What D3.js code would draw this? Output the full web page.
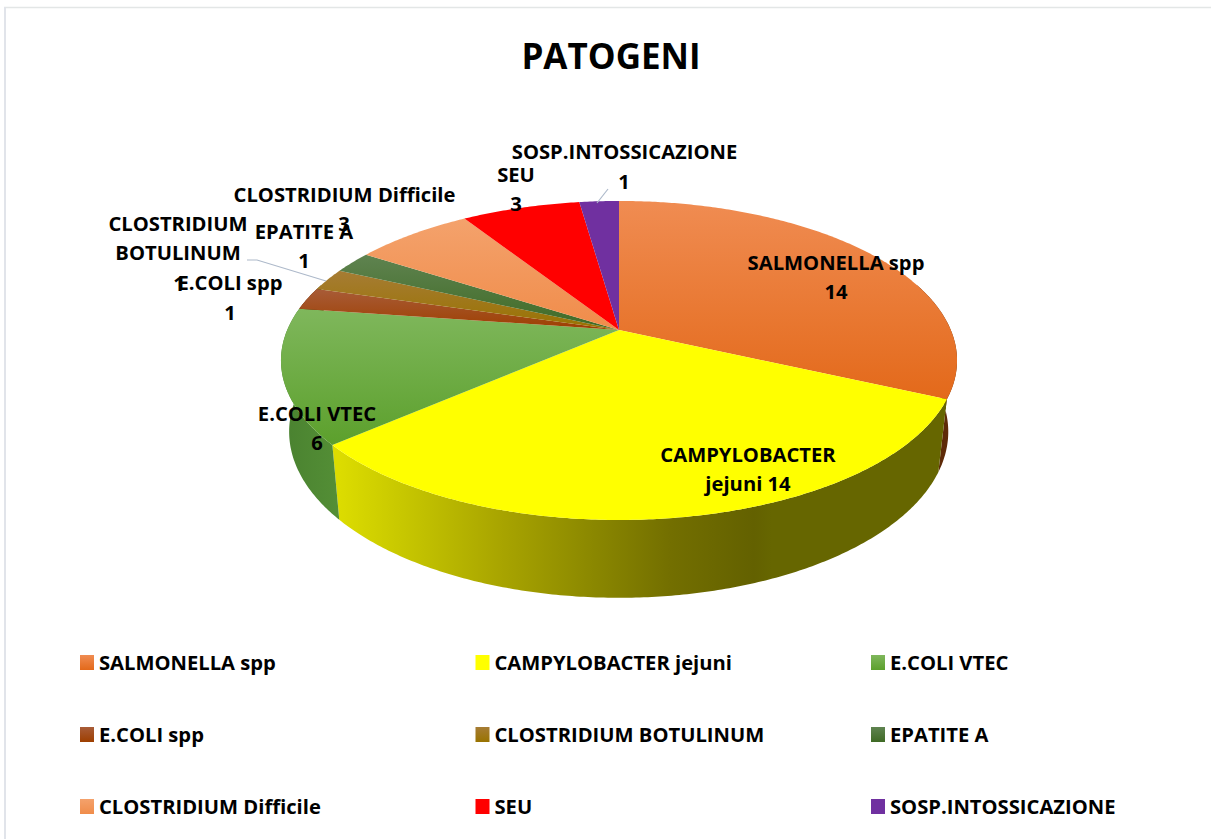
<!DOCTYPE html>
<html><head><meta charset="utf-8">
<script src="https://cdn.jsdelivr.net/npm/d3@7"></script>
<style>html,body{margin:0;padding:0;background:#fff;overflow:hidden}svg{display:block}
text{font-family:"Open Sans",sans-serif;font-weight:700;fill:#000}</style>
</head><body><svg id="c" width="1211" height="839"></svg>
<script>
const categories = ["SALMONELLA spp","CAMPYLOBACTER jejuni","E.COLI VTEC","E.COLI spp","CLOSTRIDIUM BOTULINUM","EPATITE A","CLOSTRIDIUM Difficile","SEU","SOSP.INTOSSICAZIONE"];
const values = [14,14,6,1,1,1,3,3,1];
const topLight = ["#f08c52","#ffff00","#7fb75c","#a85c38","#a67c34","#5f8350","#f4a26c","#ff0000","#7030a0"];
const topDark  = ["#e3691a","#ffff00","#5ca02c","#9e3f00","#997300","#3f6a25","#f08c4a","#ff0000","#7030a0"];
const sideColors = ["#5e2a08",null,"#4f8a32","#5f2600","#5c4500","#264015","#904f20","#990000","#431d60"];
const title = "PATOGENI";

// label placement (text lines with centre x and baseline y)
const labelLayout = [
  {i:0, lines:[["SALMONELLA spp",836,269.5],["14",836,298.5]]},
  {i:1, lines:[["CAMPYLOBACTER",748,461.5],["jejuni 14",748,490.5]]},
  {i:2, lines:[["E.COLI VTEC",317,420.5],["6",317,449.5]]},
  {i:3, lines:[["E.COLI spp",230,289.5],["1",230,319.5]]},
  {i:4, lines:[["CLOSTRIDIUM",178,230.5],["BOTULINUM",178,259.5],["1",179,290.5]]},
  {i:5, lines:[["EPATITE A",304,238.5],["1",304,267.5]]},
  {i:6, lines:[["CLOSTRIDIUM Difficile",344.5,201.5],["3",344,230.5]]},
  {i:7, lines:[["SEU",516,181.5],["3",516,210.5]]},
  {i:8, lines:[["SOSP.INTOSSICAZIONE",624.5,158.5],["1",624,188.5]]}
];

const svg = d3.select("#c");
const defs = svg.append("defs");

// frame
svg.append("line").attr("x1",4).attr("y1",7.5).attr("x2",1211).attr("y2",7.5).attr("stroke","#e3e6e6").attr("stroke-width",1.5);
svg.append("line").attr("x1",5).attr("y1",7).attr("x2",5).attr("y2",839).attr("stroke","#e1e4ea").attr("stroke-width",2);

svg.append("text").attr("x",611).attr("y",69).attr("text-anchor","middle").style("font-size","35px").text(title);

// pie angles through d3.pie, clockwise from 12 o'clock
const arcs = d3.pie().sort(null).value(d=>d)(values);

// perspective projection of the tilted disc
const p = 0.191;
const topFace = {cx:619, cy:330, a:153.7, b:331.8};
const botFace = {cx:618.7, cy:400, a:160, b:323.5};
function project(f, t){
  const u = Math.sin(t), v = -Math.cos(t), w = 1 - p*v;
  return [f.cx + f.b*u/w, f.cy + f.a*v/w];
}
const line = d3.line();
function arcPts(f, a0, a1){
  const n = Math.max(2, Math.ceil(Math.abs(a1-a0)/0.01));
  return d3.range(n+1).map(k => project(f, a0 + (a1-a0)*k/n));
}

// gradients
arcs.forEach((d,i)=>{
  const g = defs.append("linearGradient").attr("id","face"+i).attr("x1",0).attr("y1",0).attr("x2",0).attr("y2",1);
  g.append("stop").attr("offset",0).attr("stop-color",topLight[i]);
  g.append("stop").attr("offset",1).attr("stop-color",topDark[i]);
});
const gy = defs.append("linearGradient").attr("id","sideYellow").attr("gradientUnits","userSpaceOnUse")
  .attr("x1",340).attr("y1",0).attr("x2",940).attr("y2",0);
[[0,"#dcdc00"],[0.1,"#c8c800"],[0.27,"#a8a400"],[0.42,"#8b8800"],[0.55,"#736f00"],[0.69,"#636100"],[0.72,"#666600"],[1,"#666600"]]
  .forEach(s=>gy.append("stop").attr("offset",s[0]).attr("stop-color",s[1]));
const gg = defs.append("linearGradient").attr("id","sideGreen").attr("gradientUnits","userSpaceOnUse")
  .attr("x1",285).attr("y1",0).attr("x2",340).attr("y2",0);
gg.append("stop").attr("offset",0).attr("stop-color","#4a8230");
gg.append("stop").attr("offset",1).attr("stop-color","#548f36");

// side walls (only the parts facing the viewer)
const g3d = svg.append("g");
const wallMin = Math.PI*0.40, wallMax = Math.PI*1.6;
arcs.forEach((d,i)=>{
  const a0 = Math.max(d.startAngle, wallMin), a1 = Math.min(d.endAngle, wallMax);
  if(a1<=a0) return;
  const pts = arcPts(topFace,a0,a1).concat(arcPts(botFace,a1,a0));
  g3d.append("path").attr("d",line(pts)+"Z")
    .attr("fill", i===1 ? "url(#sideYellow)" : i===2 ? "url(#sideGreen)" : sideColors[i]);
});

// top faces
arcs.forEach((d,i)=>{
  const pts = [[topFace.cx,topFace.cy]].concat(arcPts(topFace,d.startAngle,d.endAngle));
  g3d.append("path").attr("d",line(pts)+"Z").attr("fill","url(#face"+i+")");
});

// leader lines
const leaders = [[[247,260],[257,260],[326,281]],[[597,203],[608,189]]];
leaders.forEach(l=>svg.append("path").attr("d",line(l)).attr("fill","none").attr("stroke","#adb9ca").attr("stroke-width",1.2));

// data labels
labelLayout.forEach(L=>L.lines.forEach(t=>{
  svg.append("text").attr("x",t[1]).attr("y",t[2]).attr("text-anchor","middle").style("font-size","20.2px").text(t[0]);
}));

// legend
const legX = d3.scalePoint().domain([0,1,2]).range([80,871]);
const legY = d3.scalePoint().domain([0,1,2]).range([655,799]);
categories.forEach((c,i)=>{
  const col=i%3,row=Math.floor(i/3);
  svg.append("rect").attr("x",legX(col)).attr("y",legY(row)).attr("width",14).attr("height",15).attr("fill","url(#face"+i+")");
  svg.append("text").attr("x",legX(col)+19).attr("y",legY(row)+14.5).style("font-size","20.2px").text(c);
});
</script></body></html>
